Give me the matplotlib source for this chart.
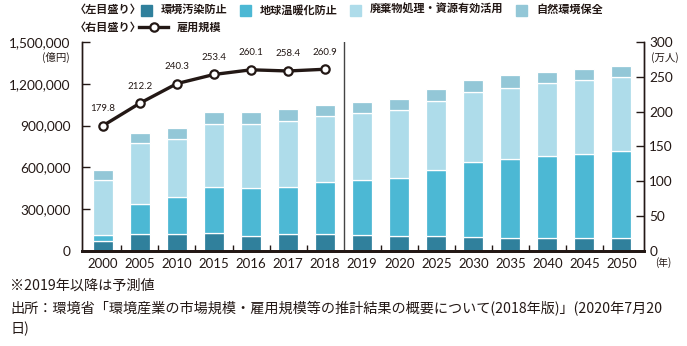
import numpy as np
import matplotlib.pyplot as plt
from matplotlib.patches import Rectangle
from matplotlib.lines import Line2D

plt.rcParams['font.family'] = ['Lato', 'Noto Sans CJK JP', 'DejaVu Sans']
JP = ['Noto Sans CJK JP', 'DejaVu Sans']

# 市場規模(億円) と 雇用規模(万人)
years = ['2000', '2005', '2010', '2015', '2016', '2017', '2018',
         '2019', '2020', '2025', '2030', '2035', '2040', '2045', '2050']
pollution = [75000, 125000, 125000, 132000, 111000, 120000, 120000,
             115000, 111000, 104000, 99000, 96000, 96000, 96000, 94000]
warming = [40000, 211000, 261000, 324000, 338000, 336000, 372000,
           391000, 410000, 474000, 537000, 566000, 587000, 602000, 623000]
waste = [394000, 437000, 420000, 455000, 460000, 477000, 475000,
         485000, 489000, 497000, 504000, 511000, 521000, 530000, 533000]
nature = [71000, 74000, 74000, 84000, 86000, 84000, 83000,
          79000, 79000, 86000, 90000, 89000, 84000, 79000, 79000]
employ = [179.8, 212.2, 240.3, 253.4, 260.1, 258.4, 260.9]

names = ['環境汚染防止', '地球温暖化防止', '廃棄物処理・資源有効活用', '自然環境保全']
colors = ['#30809c', '#4cb8d4', '#aedcea', '#93c7d7']
ink = '#231815'

fig = plt.figure(figsize=(6.87, 3.46), dpi=100)
ax = fig.add_axes([0.119, 0.2746, 0.818, 0.604])
ax2 = ax.twinx()

x = np.arange(len(years))
bottom = np.zeros(len(years))
for vals, c in zip([pollution, warming, waste, nature], colors):
    ax.bar(x, vals, 0.54, bottom=bottom, color=c, edgecolor='white', linewidth=0.9, zorder=2)
    bottom += np.array(vals)

ax.set_xlim(-0.57, 14.6)
ax.set_ylim(0, 1500000)
ax.set_yticks(np.arange(0, 1500001, 300000))
ax.set_yticklabels([f'{v:,}' for v in range(0, 1500001, 300000)], fontsize=9.8, color=ink)
ax.set_xticks(x)
ax.set_xticklabels(years, fontsize=9.5, color=ink)
ax.tick_params(axis='x', length=0, pad=5)
ax.set_xticks([i + 0.5 for i in range(14) if i != 6], minor=True)
ax.tick_params(axis='x', which='minor', direction='in', length=4, width=1, color=ink)
ax.tick_params(axis='y', direction='in', length=6, width=1, color=ink, pad=8)

# 実績と予測の区切り
ax.axvline(6.5, color='#444444', linewidth=1, zorder=1)

ax2.set_ylim(0, 300)
ax2.set_yticks(np.arange(0, 301, 50))
ax2.set_yticklabels([str(v) for v in range(0, 301, 50)], fontsize=9.8, color=ink)
ax2.tick_params(axis='y', direction='in', length=6, width=1, color=ink, pad=4)
ax2.plot(x[:len(employ)], employ, color=ink, linewidth=2.4, marker='o', markersize=6,
         markerfacecolor='white', markeredgecolor=ink, markeredgewidth=1.6, zorder=5)
for xi, v in zip(x, employ):
    ax2.annotate(f'{v}', (xi, v), xytext=(0, 9), textcoords='offset points',
                 ha='center', va='bottom', fontsize=7, color=ink)

for a in (ax, ax2):
    a.spines['top'].set_visible(False)
    for s in ('left', 'right'):
        a.spines[s].set_color(ink)
        a.spines[s].set_linewidth(1)
    a.spines['bottom'].set_color(ink)
    a.spines['bottom'].set_linewidth(2)

# 単位
fig.text(0.101, 0.835, '(億円)', family=JP, fontsize=7.5, ha='right', va='center', color=ink)
fig.text(0.948, 0.835, '(万人)', family=JP, fontsize=7.5, ha='left', va='center', color=ink)
fig.text(0.953, 0.24, '(年)', family=JP, fontsize=7, ha='left', va='center', color=ink)

# 凡例
fig.text(0.109, 0.972, '〈左目盛り〉', family=JP, fontsize=8, weight='bold', ha='left', va='center', color=ink)
fig.text(0.109, 0.922, '〈右目盛り〉', family=JP, fontsize=8, weight='bold', ha='left', va='center', color=ink)
lx = [141, 240, 350, 516]
for px, n, c in zip(lx, names, colors):
    fig.add_artist(Rectangle((px / 687, 1 - 16 / 346), 11 / 687, 11 / 346,
                             transform=fig.transFigure, color=c))
    fig.text((px + 20) / 687, 0.972, n, family=JP, fontsize=8, weight='bold',
             ha='left', va='center', color=ink)
fig.add_artist(Line2D([139 / 687, 168 / 687], [0.922, 0.922], transform=fig.transFigure,
                      color=ink, linewidth=2.4))
fig.add_artist(Line2D([153.5 / 687], [0.922], transform=fig.transFigure, color=ink,
                      marker='o', markersize=6, markerfacecolor='white', markeredgewidth=1.6))
fig.text(177 / 687, 0.922, '雇用規模', family=JP, fontsize=8, weight='bold',
         ha='left', va='center', color=ink)

# 注記
fig.text(0.015, 0.175, '※2019年以降は予測値', family=JP, fontsize=10.2, ha='left', va='center', color=ink)
fig.text(0.015, 0.112, '出所：環境省「環境産業の市場規模・雇用規模等の推計結果の概要について(2018年版)」(2020年7月20',
         family=JP, fontsize=10.2, ha='left', va='center', color=ink)
fig.text(0.015, 0.049, '日)', family=JP, fontsize=10.2, ha='left', va='center', color=ink)

fig.savefig('out.png', dpi=100)
